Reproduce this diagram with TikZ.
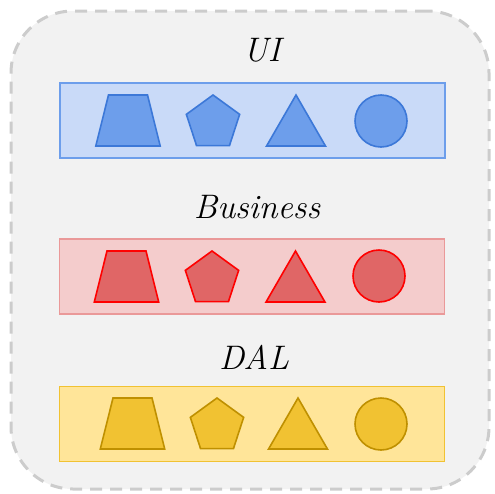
\documentclass[tikz,border=0pt]{standalone}
\usepackage{tikz}
\usetikzlibrary{shapes.geometric, positioning}
\definecolor{frameline}{HTML}{CCCCCC}
\definecolor{framefill}{HTML}{F2F2F2}
\definecolor{uiband}{HTML}{C9DAF8}
\definecolor{uibandline}{HTML}{6D9EEB}
\definecolor{uishape}{HTML}{6D9EEB}
\definecolor{uishapeline}{HTML}{3C78D8}
\definecolor{bizband}{HTML}{F4CCCC}
\definecolor{bizbandline}{HTML}{EA9999}
\definecolor{bizshape}{HTML}{E06666}
\definecolor{bizshapeline}{HTML}{FF0000}
\definecolor{dalband}{HTML}{FFE599}
\definecolor{dalbandline}{HTML}{F1C232}
\definecolor{dalshape}{HTML}{F1C232}
\definecolor{dalshapeline}{HTML}{BF9000}

\begin{document}
\begin{tikzpicture}[
        x=1pt, y=-1pt,
        frame/.style = {rectangle, rounded corners=62pt, draw=frameline, fill=framefill, line width=3pt, dash pattern=on 12pt off 8pt, minimum width=478pt, minimum height=478pt},
        band/.style = {rectangle, line width=1.5pt, minimum width=385pt, minimum height=75pt, inner sep=0pt},
        title/.style = {inner sep=0pt, font=\fontsize{34}{40}\selectfont\itshape},
        piece/.style = {line width=1.6pt, inner sep=0pt},
        trap/.style = {piece, trapezium, trapezium angle=76, inner xsep=19.5pt, inner ysep=25.5pt},
        penta/.style = {piece, regular polygon, regular polygon sides=5, minimum size=56pt},
        tri/.style = {piece, regular polygon, regular polygon sides=3, minimum size=68pt},
        disc/.style = {piece, circle, minimum size=52pt},
    ]
        \useasboundingbox (0,0) rectangle (495,493);
        \node[frame] (box) at (250,250) {};

        % UI
        \node[title] (uititle) at (262,50) {UI};
        \node[band, fill=uiband, draw=uibandline] (ui) at (252.5,120.5) {};
        \node[trap, fill=uishape, draw=uishapeline] (ui1) at (128,120.5) {};
        \node[penta, fill=uishape, draw=uishapeline] (ui2) at (213,123) {};
        \node[tri, fill=uishape, draw=uishapeline] (ui3) at (296,129) {};
        \node[disc, fill=uishape, draw=uishapeline] (ui4) at (381,121) {};

        % Business
        \node[title] (biztitle) at (257,207) {Business};
        \node[band, fill=bizband, draw=bizbandline] (biz) at (252,276.5) {};
        \node[trap, fill=bizshape, draw=bizshapeline] (biz1) at (126.5,276.5) {};
        \node[penta, fill=bizshape, draw=bizshapeline] (biz2) at (212,279) {};
        \node[tri, fill=bizshape, draw=bizshapeline] (biz3) at (295.5,285) {};
        \node[disc, fill=bizshape, draw=bizshapeline] (biz4) at (379,276) {};

        % DAL
        \node[title] (daltitle) at (254,357) {DAL};
        \node[band, fill=dalband, draw=dalbandline] (dal) at (252,424) {};
        \node[trap, fill=dalshape, draw=dalshapeline] (dal1) at (132.5,423.5) {};
        \node[penta, fill=dalshape, draw=dalshapeline] (dal2) at (217,426) {};
        \node[tri, fill=dalshape, draw=dalshapeline] (dal3) at (298,432) {};
        \node[disc, fill=dalshape, draw=dalshapeline] (dal4) at (381,424) {};
    \end{tikzpicture}
\end{document}
